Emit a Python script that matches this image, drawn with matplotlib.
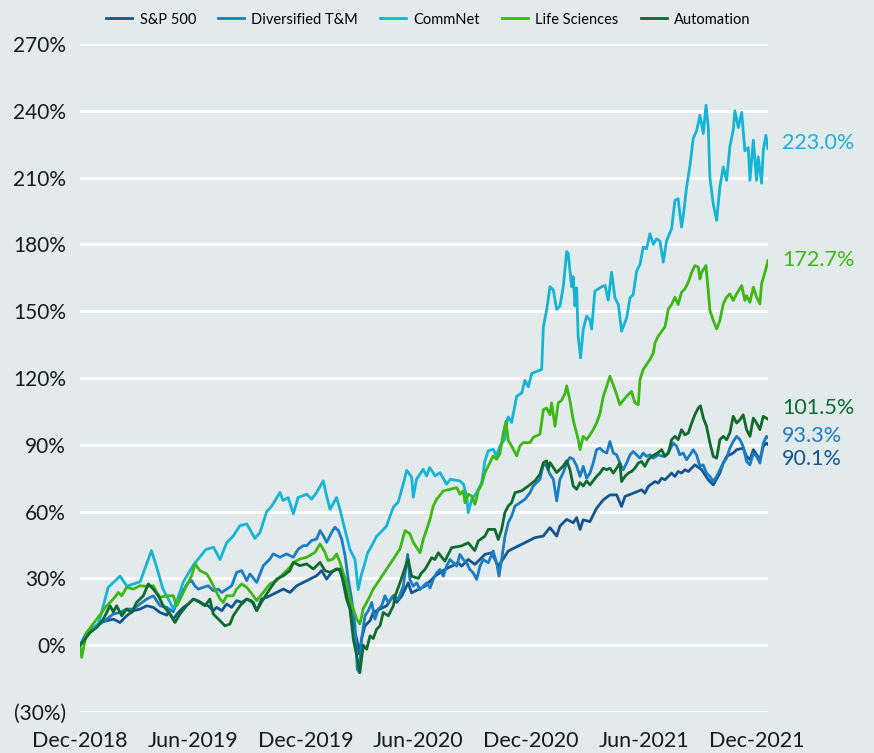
import matplotlib
matplotlib.use("Agg")
import matplotlib.pyplot as plt
import matplotlib.transforms as mtransforms
from matplotlib.ticker import FuncFormatter

plt.rcParams['font.family'] = ['Lato', 'DejaVu Sans']

# x = months since Dec-2018, y = cumulative return (%)
sp500 = [(0, 0), (0.35, 4.2), (0.71, 7.2), (1.06, 10.2), (1.42, 11), (1.77, 11.7), (2.13, 10.2),
         (2.48, 13.2), (2.84, 15.5), (3.19, 16.2), (3.55, 17.7), (3.9, 17), (4.26, 14.7), (4.61, 13.5),
         (4.7, 15), (4.96, 11.7), (5.23, 14.7), (5.5, 17), (5.76, 18.5), (6.03, 20.7), (6.29, 19.9),
         (6.56, 18.5), (6.82, 17.7), (7.09, 15.5), (7.27, 17), (7.54, 15.5), (7.8, 18.5), (8.07, 17),
         (8.33, 20), (8.6, 19.2), (8.87, 20.7), (9.13, 19.9), (9.4, 15.5), (9.66, 20.7), (9.93, 21.5),
         (10.1, 22.2), (10.46, 23.7), (10.82, 25.2), (11.17, 23.7), (11.53, 26.7), (11.88, 28.2),
         (12.23, 29.7), (12.59, 31.2), (12.85, 33.5), (13.12, 29.7), (13.39, 32.7), (13.65, 34.2),
         (13.83, 33.5), (14.0, 29.7), (14.18, 23.7), (14.36, 17.7), (14.54, 8.7), (14.72, 2.7),
         (14.86, -4), (14.98, 3), (15.16, 8.7), (15.43, 11), (15.6, 14.7), (15.96, 16.2), (16.31, 17.7),
         (16.67, 22.2), (16.84, 19.2), (17.11, 22), (17.46, 28), (17.64, 23.5), (18.0, 25),
         (18.35, 26.5), (18.71, 29.5), (18.88, 31), (19.41, 34), (19.77, 35.5), (20.12, 37),
         (20.3, 35.5), (20.65, 38.5), (21.01, 36.3), (21.19, 37.8), (21.54, 40.8), (21.9, 41.5),
         (22.25, 35.5), (22.61, 40), (22.78, 42.3), (23.14, 43.8), (23.49, 45.3), (23.85, 46.8),
         (24.2, 48.3), (24.64, 49), (25.0, 52.8), (25.36, 49), (25.53, 53.5), (25.71, 55),
         (25.89, 56.5), (26.24, 55), (26.42, 57.3), (26.6, 52), (26.77, 56.3), (27.13, 55.5),
         (27.3, 58.5), (27.48, 61.5), (27.84, 65.3), (28.19, 67.5), (28.55, 67.5), (28.81, 62.3),
         (28.99, 66.8), (29.43, 68.3), (29.88, 69.8), (30.05, 68.3), (30.23, 71.3), (30.59, 73.5),
         (30.76, 72.8), (30.94, 75), (31.12, 74.3), (31.47, 77.3), (31.65, 75.8), (31.82, 78),
         (32.0, 77.3), (32.18, 78.8), (32.36, 78), (32.71, 81), (33.07, 78.8), (33.42, 74.3),
         (33.69, 72), (34.04, 77.3), (34.22, 81.8), (34.4, 84.8), (34.75, 86.3), (34.93, 87.8),
         (35.28, 88.5), (35.46, 84.8), (35.64, 83.3), (35.82, 87.8), (36.17, 83.3), (36.35, 89.3),
         (36.52, 90.8), (36.6, 90.1)]

diversified = [(0, 0), (0.35, 5.7), (0.71, 8), (1.06, 9.5), (1.42, 11.7), (1.77, 14), (2.13, 14.7),
               (2.48, 16.2), (2.84, 16.2), (3.19, 18.5), (3.55, 20.7), (3.9, 22.2), (4.26, 17.7),
               (4.61, 17), (4.96, 15), (5.14, 19), (5.32, 23), (5.5, 24.7), (5.76, 28.2), (5.94, 29),
               (6.12, 26.5), (6.29, 25.2), (6.56, 26), (6.82, 26.7), (7.09, 24.5), (7.36, 25.2),
               (7.54, 23.7), (7.8, 25.2), (8.07, 26.7), (8.33, 32.7), (8.6, 33.5), (8.87, 29),
               (9.04, 32), (9.4, 28.2), (9.75, 35.7), (10.1, 38.7), (10.28, 41), (10.64, 39.5),
               (10.99, 41), (11.35, 39.5), (11.61, 43.2), (11.88, 44.7), (12.06, 44.7), (12.32, 47),
               (12.59, 47.7), (12.77, 51.5), (12.94, 49.2), (13.12, 46.2), (13.39, 50.7), (13.56, 53),
               (13.74, 51.5), (13.92, 47.7), (14.1, 40.2), (14.27, 29.7), (14.45, 20.7), (14.63, 8.7),
               (14.75, -10.8), (14.86, -12.3), (14.98, 2.7), (15.16, 13.2), (15.34, 15.5), (15.52, 19.2),
               (15.69, 11.7), (15.87, 16.2), (16.05, 17.7), (16.22, 22.2), (16.4, 19.2), (16.67, 22.2),
               (16.93, 20.7), (17.2, 26.5), (17.43, 40.8), (17.55, 29.5), (17.73, 26.5), (17.91, 28),
               (18.09, 25), (18.26, 26.5), (18.44, 28), (18.62, 25.7), (18.79, 29.5), (18.97, 32.5),
               (19.15, 34), (19.33, 31), (19.5, 35.5), (19.68, 38.5), (19.86, 37), (20.04, 35.5),
               (20.21, 40.8), (20.39, 38.5), (20.57, 37), (20.74, 34), (20.92, 32.5), (21.1, 29.5),
               (21.28, 35.5), (21.45, 38.5), (21.72, 37), (21.98, 42.3), (22.16, 37), (22.29, 31),
               (22.43, 38.5), (22.61, 49), (22.78, 55), (22.96, 58), (23.14, 62.5), (23.4, 64),
               (23.67, 65.5), (23.94, 68.5), (24.11, 71.5), (24.47, 74.5), (24.65, 81.3), (24.82, 80.5),
               (25.0, 76.8), (25.18, 74.5), (25.36, 64.8), (25.53, 74.5), (25.71, 77.5), (25.89, 82),
               (26.06, 84.3), (26.24, 83.5), (26.42, 80.5), (26.6, 75.8), (26.77, 80.3), (26.95, 75),
               (27.13, 77.3), (27.3, 81.8), (27.48, 87.8), (27.66, 88.5), (27.84, 87), (28.02, 86.3),
               (28.19, 91.5), (28.37, 86.3), (28.55, 85.5), (28.72, 81.8), (28.9, 78.8), (29.08, 81.8),
               (29.26, 85.5), (29.43, 87), (29.61, 85.5), (29.79, 84), (29.96, 86.3), (30.14, 84.8),
               (30.32, 85.5), (30.5, 84), (30.76, 85.5), (31.03, 84.8), (31.21, 85.5), (31.38, 87.8),
               (31.56, 90.8), (31.74, 89.3), (31.91, 85.5), (32.09, 86.3), (32.27, 83.3), (32.45, 85.5),
               (32.62, 87.8), (32.8, 85.5), (32.98, 80.3), (33.15, 81), (33.33, 77.3), (33.51, 75.8),
               (33.69, 73.5), (33.87, 75.8), (34.04, 78.8), (34.22, 81.8), (34.4, 84), (34.57, 88.5),
               (34.75, 91.5), (34.93, 93.8), (35.11, 92.3), (35.28, 89.3), (35.46, 82.5), (35.64, 81),
               (35.82, 86.3), (35.99, 84.8), (36.17, 81.8), (36.35, 90.8), (36.52, 93.8), (36.6, 93.3)]

commnet = [(0, 0), (0.5, 5.7), (1.0, 10), (1.5, 26), (2.13, 31), (2.5, 26.5), (3.2, 28.5), (3.8, 42.5),
           (4.1, 34.5), (4.4, 25.5), (4.96, 16.5), (5.14, 19.5), (5.5, 28.5), (6.03, 36), (6.7, 43),
           (7.1, 44), (7.45, 38.5), (7.8, 46), (8.15, 49), (8.5, 53.6), (8.87, 54.5), (9.3, 48),
           (9.57, 50.5), (9.93, 60), (10.2, 62.5), (10.64, 68.6), (10.8, 65), (11.08, 66.3), (11.35, 59),
           (11.6, 66.3), (12.06, 67.8), (12.32, 65.6), (12.59, 68.6), (12.94, 73.8), (13.12, 67),
           (13.3, 61), (13.65, 66.3), (13.83, 61), (14.0, 55), (14.36, 43), (14.63, 38.5), (14.8, 25),
           (14.98, 32), (15.16, 37), (15.3, 41.4), (15.5, 44.4), (15.78, 48.9), (15.96, 50.4),
           (16.3, 53.4), (16.67, 62), (16.93, 64.3), (17.2, 72.5), (17.38, 78.5), (17.64, 75.5),
           (17.73, 66.5), (17.9, 74.5), (18.26, 79), (18.44, 76), (18.6, 79.8), (18.9, 76), (19.15, 77.5),
           (19.5, 72.3), (19.7, 74.5), (20.2, 73.8), (20.4, 72.3), (20.57, 67), (20.65, 59.5),
           (20.84, 65.5), (21.1, 68.5), (21.37, 73), (21.54, 82.8), (21.72, 87.3), (21.98, 88),
           (22.16, 85), (22.34, 89.5), (22.6, 92.5), (22.7, 100), (22.78, 102.5), (22.96, 100),
           (23.23, 111.8), (23.5, 113.3), (23.67, 119), (23.85, 116), (24.03, 122), (24.3, 123),
           (24.56, 123.8), (24.65, 143), (24.83, 150.8), (25.0, 161), (25.18, 159.5), (25.36, 150.8),
           (25.53, 152.3), (25.71, 161), (25.89, 176.8), (25.97, 176), (26.15, 161), (26.24, 165.5),
           (26.33, 152.3), (26.42, 160.5), (26.5, 138.8), (26.63, 129), (26.77, 141.8), (26.95, 147.8),
           (27.13, 146), (27.22, 142), (27.39, 159), (27.75, 161), (27.93, 161.5), (28.1, 155),
           (28.28, 167.5), (28.46, 156), (28.64, 153), (28.81, 141), (29.08, 147), (29.26, 156),
           (29.43, 157.5), (29.61, 168), (29.79, 171), (29.96, 178.8), (30.14, 178), (30.32, 184.8),
           (30.5, 180), (30.67, 182.5), (30.85, 181.5), (31.03, 172), (31.2, 181.5), (31.47, 187),
           (31.65, 199.8), (31.82, 200.5), (32.0, 187.8), (32.09, 192.5), (32.27, 205.8), (32.45, 215.5),
           (32.62, 227.5), (32.8, 231), (32.98, 238), (33.16, 229.8), (33.3, 242.5), (33.42, 233),
           (33.51, 210), (33.69, 198), (33.87, 190.8), (34.04, 205.8), (34.22, 214.8), (34.4, 208.8),
           (34.57, 223.8), (34.75, 231.3), (34.84, 240), (35.02, 232.5), (35.2, 239.3), (35.37, 222),
           (35.55, 223.5), (35.64, 208.8), (35.82, 226.8), (35.99, 208.8), (36.08, 219.3),
           (36.26, 207.5), (36.35, 222.3), (36.49, 229), (36.6, 223.0)]

life_sciences = [(0, 0), (0.09, -5.5), (0.35, 5.7), (0.89, 11.7), (1.42, 17.7), (1.77, 20.7), (2.04, 23.7),
                 (2.22, 22.2), (2.48, 26), (2.84, 25.2), (3.19, 26.7), (3.55, 26.4), (3.9, 26.7),
                 (4.08, 23.7), (4.26, 21.5), (4.61, 22.2), (4.96, 22.2), (5.14, 17.7), (5.41, 22.2),
                 (5.67, 26.7), (5.94, 31.2), (6.12, 36.5), (6.38, 33.5), (6.74, 32), (6.91, 29.7),
                 (7.18, 25.2), (7.45, 20.7), (7.62, 19.2), (7.8, 22.2), (8.15, 22.2), (8.33, 25.2),
                 (8.6, 27.5), (8.87, 26), (9.22, 22.2), (9.4, 20), (9.75, 23.7), (10.1, 27.5), (10.46, 29),
                 (10.8, 32), (11.17, 35), (11.35, 37.2), (11.7, 38.7), (12.06, 39.5), (12.5, 41.7),
                 (12.77, 45.5), (13.03, 41.7), (13.2, 38), (13.47, 38.7), (13.65, 41), (13.83, 37.2),
                 (14.0, 32.7), (14.18, 28.2), (14.36, 20.7), (14.54, 16.2), (14.72, 11.7), (14.89, 9.5),
                 (15.07, 16.5), (15.25, 19.2), (15.43, 22.2), (15.6, 25.2), (15.96, 29.7), (16.31, 34.2),
                 (16.67, 38.7), (17.02, 43.2), (17.29, 51.5), (17.55, 50), (17.73, 46.2), (18.09, 41.5),
                 (18.26, 47.5), (18.44, 52), (18.62, 56.5), (18.79, 62.5), (18.97, 65.5), (19.33, 69.3),
                 (19.68, 70), (20.04, 70.8), (20.21, 67.8), (20.39, 69.3), (20.48, 64), (20.66, 67.8),
                 (20.83, 67), (21.01, 63.3), (21.19, 69.3), (21.37, 72.3), (21.54, 77.5), (21.72, 80.5),
                 (21.98, 85), (22.16, 83.5), (22.34, 86), (22.52, 95.5), (22.66, 100.5), (22.78, 92),
                 (22.96, 89.5), (23.23, 85), (23.4, 89.5), (23.58, 91), (23.94, 91), (24.11, 93.3),
                 (24.47, 94.8), (24.65, 105.8), (24.82, 106.5), (25.0, 103.5), (25.09, 108.8),
                 (25.27, 98.3), (25.44, 108.8), (25.62, 110), (25.8, 113), (25.89, 116.5), (26.06, 110),
                 (26.24, 101), (26.5, 92.5), (26.6, 87.8), (26.77, 93.8), (26.95, 92.3), (27.13, 94.5),
                 (27.3, 96.8), (27.48, 99.8), (27.66, 104), (27.84, 111.8), (28.02, 116.3), (28.19, 120.8),
                 (28.46, 114.8), (28.72, 108), (28.9, 110), (29.08, 111.8), (29.34, 114), (29.52, 108.8),
                 (29.7, 108), (29.79, 119.3), (29.96, 123.8), (30.32, 128.3), (30.5, 131.3),
                 (30.59, 135.8), (30.76, 138.8), (31.12, 143), (31.3, 151), (31.47, 153), (31.65, 156.3),
                 (31.82, 153), (32.0, 158.5), (32.18, 160), (32.36, 163), (32.54, 167.5), (32.71, 170.5),
                 (32.89, 169.8), (32.98, 164.5), (33.07, 167.5), (33.3, 170.5), (33.42, 159.3),
                 (33.51, 150.3), (33.69, 145.8), (33.87, 142), (34.04, 145.8), (34.22, 153.3),
                 (34.4, 156.3), (34.57, 157.8), (34.75, 154.8), (34.93, 157.8), (35.2, 161.5),
                 (35.37, 154.8), (35.46, 157), (35.64, 154), (35.82, 160.8), (35.99, 156.3),
                 (36.17, 153.3), (36.26, 162.3), (36.44, 167.5), (36.6, 172.7)]

automation = [(0, 0), (0.27, 2.7), (0.53, 5.7), (0.89, 8), (1.24, 11.7), (1.6, 17.7), (1.77, 15),
              (1.95, 17.7), (2.22, 13.2), (2.48, 16.2), (2.75, 14.7), (3.01, 19.2), (3.37, 22.2),
              (3.63, 27.5), (3.9, 25.2), (4.17, 22.2), (4.43, 17.7), (4.79, 14), (5.05, 10.2), (5.32, 14),
              (5.67, 17.7), (6.03, 20.7), (6.38, 19.2), (6.65, 17.7), (6.91, 20.7), (7.09, 14), (7.45, 11),
              (7.71, 8.7), (7.98, 9.5), (8.15, 13.2), (8.51, 17.7), (8.87, 20.7), (9.22, 19.2),
              (9.4, 15.5), (9.75, 20.7), (10.1, 25.2), (10.46, 29.7), (10.82, 31.2), (11.17, 33.5),
              (11.35, 37.2), (11.7, 35.7), (12.06, 36.5), (12.41, 34.2), (12.77, 37.2), (13.03, 33.5),
              (13.3, 32.7), (13.65, 34.2), (13.83, 34.2), (14.0, 28.2), (14.18, 20.7), (14.36, 16.2),
              (14.54, 2.7), (14.72, -4.8), (14.89, -12.3), (15.07, 0), (15.25, -1.8), (15.43, 4.2),
              (15.6, 3), (15.78, 7.2), (15.96, 8.7), (16.13, 14.7), (16.4, 13.2), (16.67, 17.7),
              (16.76, 22), (17.02, 28), (17.38, 37), (17.46, 38.5), (17.64, 31), (18.0, 30),
              (18.17, 32.5), (18.35, 34), (18.71, 39.3), (18.88, 38.5), (19.06, 41.5), (19.41, 37.8),
              (19.77, 43.8), (20.3, 44.6), (20.65, 46), (21.0, 42.5), (21.19, 46.8), (21.54, 49),
              (21.72, 52), (22.07, 52), (22.25, 47.5), (22.43, 52), (22.6, 59.5), (22.78, 62.5),
              (22.96, 64), (23.14, 68.5), (23.49, 69.3), (23.85, 71.5), (24.2, 73.8), (24.47, 76.8),
              (24.65, 82), (24.82, 82.8), (24.91, 79), (25.0, 82), (25.18, 79.8), (25.36, 77.5),
              (25.53, 79), (25.71, 80.5), (25.89, 82.8), (26.06, 79), (26.24, 71.5), (26.42, 70),
              (26.6, 73), (26.77, 71.5), (26.95, 73.8), (27.13, 72), (27.48, 75.8), (27.66, 77.3),
              (27.84, 79.5), (28.02, 78.8), (28.19, 79.5), (28.37, 77.3), (28.55, 79.5), (28.72, 81.8),
              (28.81, 73.5), (28.99, 75.8), (29.17, 77.3), (29.34, 78), (29.52, 79.5), (29.7, 81.8),
              (29.88, 82.5), (30.05, 80.3), (30.23, 83.3), (30.41, 84.8), (30.76, 86.5), (30.94, 87.8),
              (31.12, 84.8), (31.3, 86.3), (31.47, 92.3), (31.65, 93.8), (31.82, 92.3), (32.0, 96.8),
              (32.18, 94.5), (32.36, 95.3), (32.54, 99.8), (32.71, 103.5), (32.89, 106.5),
              (33.01, 107.5), (33.16, 102), (33.33, 98.3), (33.51, 90.8), (33.69, 84.8), (33.87, 84),
              (34.04, 92.3), (34.22, 93.8), (34.4, 92.3), (34.57, 95.3), (34.75, 102.8), (34.93, 99.8),
              (35.11, 101.3), (35.28, 103.5), (35.46, 96.8), (35.64, 93.8), (35.82, 102), (35.99, 99.8),
              (36.17, 96.8), (36.35, 102.8), (36.6, 101.5)]

tick_months = [0, 6, 12, 18, 24, 30, 36]
tick_labels = ['Dec-2018', 'Jun-2019', 'Dec-2019', 'Jun-2020', 'Dec-2020', 'Jun-2021', 'Dec-2021']

series = [
    ('S&P 500', sp500, '#14558f', '90.1%', -6.5),
    ('Diversified T&M', diversified, '#1a7cc2', '93.3%', 0.5),
    ('CommNet', commnet, '#16b4d4', '223.0%', 2.5),
    ('Life Sciences', life_sciences, '#3db714', '172.7%', 0.3),
    ('Automation', automation, '#0f6a2d', '101.5%', 5.0),
]

bg = '#e3eaec'
fig = plt.figure(figsize=(8.74, 7.53), dpi=100, facecolor=bg)
ax = fig.add_axes([80 / 874, 1 - 712 / 753, 688 / 874, 668 / 753])
ax.set_facecolor(bg)

for name, data, color, endlabel, nudge in series:
    xs = [p[0] for p in data]
    ys = [p[1] for p in data]
    ax.plot(xs, ys, color=color, lw=2.0, label=name, solid_joinstyle='round')
    trans = mtransforms.blended_transform_factory(ax.transAxes, ax.transData)
    ax.annotate(endlabel, xy=(1, ys[-1] + nudge), xycoords=trans,
                xytext=(10, 0), textcoords='offset points',
                color=color, fontsize=15.5, va='center', ha='left')

ax.set_xlim(0, 36.6)
ax.set_ylim(-30, 270)
ax.set_yticks(range(-30, 271, 30))
ax.yaxis.set_major_formatter(FuncFormatter(lambda v, p: f'({abs(int(v))}%)' if v < 0 else f'{int(v)}%'))
ax.set_xticks(tick_months)
ax.set_xticklabels(tick_labels)
ax.tick_params(axis='y', length=0, labelsize=15, colors='#1a1a1a', pad=10)
ax.tick_params(axis='x', length=0, labelsize=15.5, colors='#1a1a1a', pad=14)
ax.grid(axis='y', color='white', lw=2.2)
ax.set_axisbelow(True)
for s in ax.spines.values():
    s.set_visible(False)

fig.legend(loc='center', bbox_to_anchor=(0.49, 0.974), ncol=5, frameon=False,
           fontsize=10.5, handlelength=1.8, handletextpad=0.5, columnspacing=1.5)

fig.savefig('out.png', dpi=100, facecolor=bg)
